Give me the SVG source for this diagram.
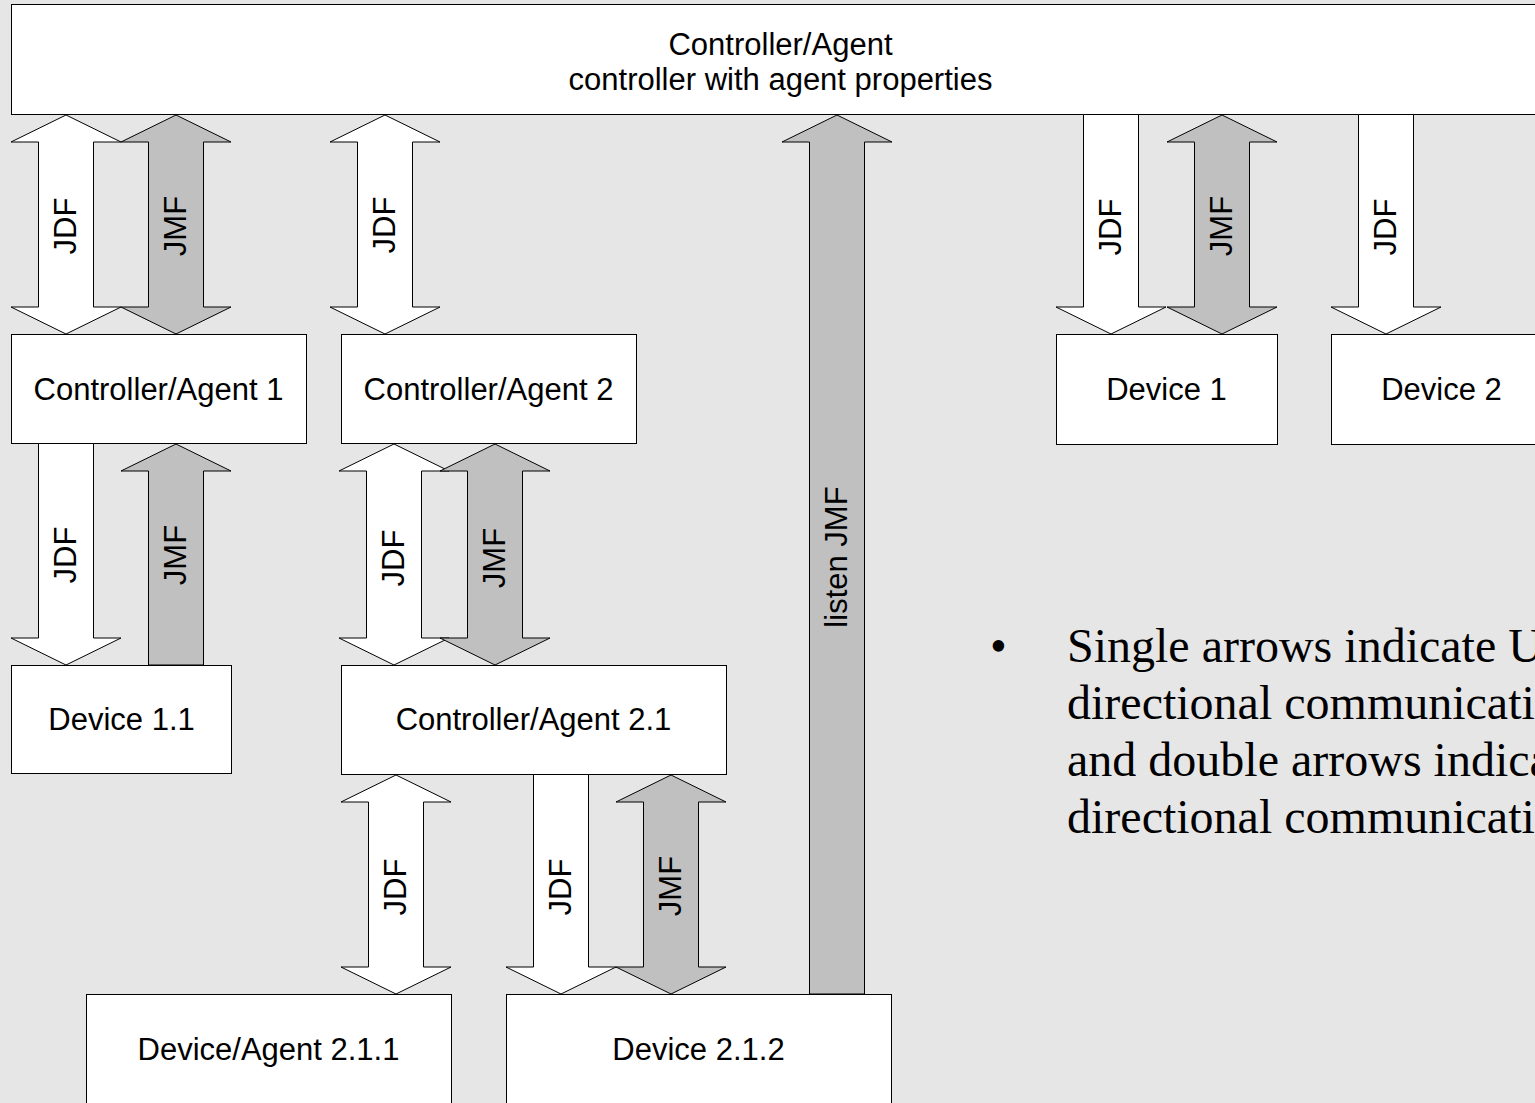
<svg xmlns="http://www.w3.org/2000/svg" width="1535" height="1103" viewBox="0 0 1535 1103">
<style>
.bg{fill:#e6e6e6}
.box{fill:#ffffff;stroke:#000000;stroke-width:1}
.lbl{font-family:"Liberation Sans",Arial,sans-serif;font-size:31px;fill:#000000;text-anchor:middle}
.w{fill:#ffffff;stroke:#000000;stroke-width:1;stroke-linejoin:miter}
.g{fill:#c0c0c0;stroke:#000000;stroke-width:1;stroke-linejoin:miter}
.al{font-family:"Liberation Sans",Arial,sans-serif;font-size:31px;fill:#000000;text-anchor:middle}
.note{font-family:"Liberation Serif","Times New Roman",serif;font-size:48px;fill:#000000}
</style>
<rect class="bg" x="0" y="0" width="1535" height="1103"/>

<g id="controller-agent">
<rect class="box" x="11.5" y="4.5" width="1540" height="110"/>
<text class="lbl" x="780.5" y="55">Controller/Agent</text>
<text class="lbl" x="780.5" y="90">controller with agent properties</text>
</g>
<g id="controller-agent-1">
<rect class="box" x="11.5" y="334.5" width="295" height="109"/>
<text class="lbl" x="158.5" y="400">Controller/Agent 1</text>
</g>
<g id="controller-agent-2">
<rect class="box" x="341.5" y="334.5" width="295" height="109"/>
<text class="lbl" x="488.5" y="400">Controller/Agent 2</text>
</g>
<g id="device-1">
<rect class="box" x="1056.5" y="334.5" width="221" height="110"/>
<text class="lbl" x="1166.5" y="400">Device 1</text>
</g>
<g id="device-2">
<rect class="box" x="1331.5" y="334.5" width="221" height="110"/>
<text class="lbl" x="1441.5" y="400">Device 2</text>
</g>
<g id="device-1-1">
<rect class="box" x="11.5" y="665.5" width="220" height="108"/>
<text class="lbl" x="121.5" y="730">Device 1.1</text>
</g>
<g id="controller-agent-2-1">
<rect class="box" x="341.5" y="665.5" width="385" height="109"/>
<text class="lbl" x="533.5" y="730">Controller/Agent 2.1</text>
</g>
<g id="device-agent-2-1-1">
<rect class="box" x="86.5" y="994.5" width="365" height="130"/>
<text class="lbl" x="268.5" y="1060">Device/Agent 2.1.1</text>
</g>
<g id="device-2-1-2">
<rect class="box" x="506.5" y="994.5" width="385" height="130"/>
<text class="lbl" x="698.5" y="1060">Device 2.1.2</text>
</g>

<g id="connectors">
<polygon class="w" points="66,115 121,142 93.5,142 93.5,307 121,307 66,334 11,307 38.5,307 38.5,142 11,142"/>
<polygon class="g" points="176,115 231,142 203.5,142 203.5,307 231,307 176,334 121,307 148.5,307 148.5,142 121,142"/>
<polygon class="w" points="385,115 440,142 412.5,142 412.5,307 440,307 385,334 330,307 357.5,307 357.5,142 330,142"/>
<polygon class="g" points="837,115 892,142 864.5,142 864.5,994 809.5,994 809.5,142 782,142"/>
<polygon class="w" points="1083.5,114.5 1138.5,114.5 1138.5,307 1166,307 1111,334 1056,307 1083.5,307"/>
<polygon class="g" points="1222,115 1277,142 1249.5,142 1249.5,307 1277,307 1222,334 1167,307 1194.5,307 1194.5,142 1167,142"/>
<polygon class="w" points="1358.5,114.5 1413.5,114.5 1413.5,307 1441,307 1386,334 1331,307 1358.5,307"/>
<polygon class="w" points="38.5,443.5 93.5,443.5 93.5,638 121,638 66,665 11,638 38.5,638"/>
<polygon class="g" points="176,444 231,471 203.5,471 203.5,665 148.5,665 148.5,471 121,471"/>
<polygon class="w" points="394,444 449,471 421.5,471 421.5,638 449,638 394,665 339,638 366.5,638 366.5,471 339,471"/>
<polygon class="g" points="495,444 550,471 522.5,471 522.5,638 550,638 495,665 440,638 467.5,638 467.5,471 440,471"/>
<polygon class="w" points="396,775 451,802 423.5,802 423.5,967 451,967 396,994 341,967 368.5,967 368.5,802 341,802"/>
<polygon class="w" points="533.5,774.5 588.5,774.5 588.5,967 616,967 561,994 506,967 533.5,967"/>
<polygon class="g" points="671,775 726,802 698.5,802 698.5,967 726,967 671,994 616,967 643.5,967 643.5,802 616,802"/>

<text class="al" transform="translate(66,226) rotate(-90)" y="10">JDF</text>
<text class="al" transform="translate(176,226) rotate(-90)" y="10">JMF</text>
<text class="al" transform="translate(385,225) rotate(-90)" y="10">JDF</text>
<text class="al" transform="translate(837,557) rotate(-90)" y="10">listen JMF</text>
<text class="al" transform="translate(1111,227) rotate(-90)" y="10">JDF</text>
<text class="al" transform="translate(1222,226) rotate(-90)" y="10">JMF</text>
<text class="al" transform="translate(1386,227) rotate(-90)" y="10">JDF</text>
<text class="al" transform="translate(66,555) rotate(-90)" y="10">JDF</text>
<text class="al" transform="translate(176,555) rotate(-90)" y="10">JMF</text>
<text class="al" transform="translate(394,558) rotate(-90)" y="10">JDF</text>
<text class="al" transform="translate(495,558) rotate(-90)" y="10">JMF</text>
<text class="al" transform="translate(396,887) rotate(-90)" y="10">JDF</text>
<text class="al" transform="translate(561,887) rotate(-90)" y="10">JDF</text>
<text class="al" transform="translate(671,886) rotate(-90)" y="10">JMF</text>
</g>

<g id="note">
<text class="note" x="990" y="662">•</text>
<text class="note" x="1067" y="662">Single arrows indicate Uni-</text>
<text class="note" x="1067" y="719">directional communication</text>
<text class="note" x="1067" y="776">and double arrows indicate bi-</text>
<text class="note" x="1067" y="833">directional communication</text>
</g>
</svg>
